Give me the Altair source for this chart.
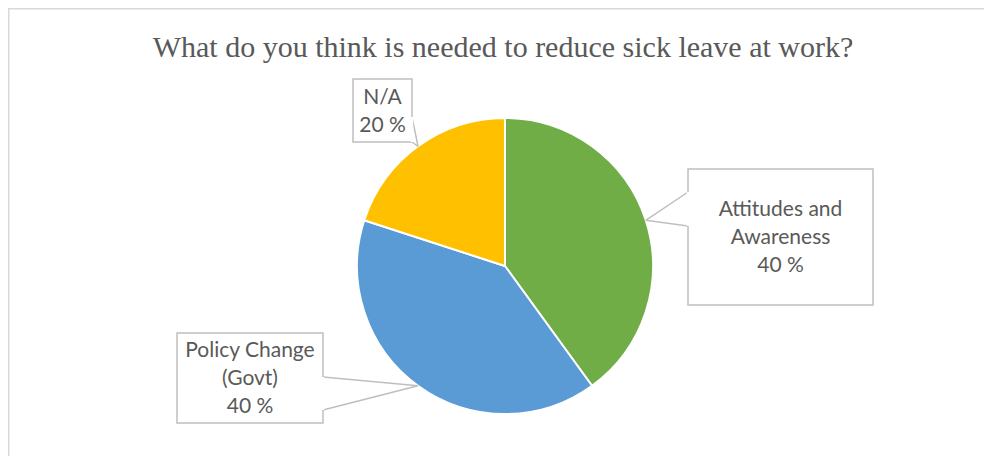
import math
import altair as alt
import pandas as pd

# ---- data ----
categories = ["Attitudes and Awareness", "Policy Change (Govt)", "N/A"]
label_text = ["Attitudes and\nAwareness", "Policy Change\n(Govt)", "N/A"]
values = [40, 40, 20]
colors = ["#70AD47", "#5B9BD5", "#FFC000"]
title_text = "What do you think is needed to reduce sick leave at work?"

# ---- layout (pixels inside the chart) ----
W, H = 976, 448
CX, CY, R = 497, 258, 148
LH = 28
# callout boxes: x0, x1, y0, y1, side of wedge, wedge base start/end along edge
boxes = [
    (680, 865, 161, 297, "left", 184, 218),
    (169, 315, 325, 415, "right", 369, 402),
    (345, 404, 71, 134, "right", 109, 134),
]
FONT = "Lato"
TXT = "#595959"
BORDER = "#BFBFBF"

total = sum(values)
pie_df = pd.DataFrame({"category": categories, "value": values, "order": list(range(len(values)))})

# tips of the callouts at slice mid-angles on the rim
rows_box, rows_line, rows_cover, rows_text = [], [], [], []
cum = 0
for cat, lab, v, b in zip(categories, label_text, values, boxes):
    mid = (cum + v / 2) / total * 2 * math.pi
    cum += v
    tx = CX + R * math.sin(mid)
    ty = CY - R * math.cos(mid)
    x0, x1, y0, y1, side, e0, e1 = b
    ex = x0 if side == "left" else x1
    rows_box.append({"x": x0, "x2": x1, "y": y0, "y2": y1})
    rows_cover.append({"x": ex, "x2": ex, "y": e0, "y2": e1})
    rows_line.append({"x": ex, "y": e0, "x2": tx, "y2": ty})
    rows_line.append({"x": ex, "y": e1, "x2": tx, "y2": ty})
    t = f"{lab}\n{v} %"
    n = t.count("\n") + 1
    rows_text.append({"x": (x0 + x1) / 2, "y": (y0 + y1) / 2 - (n - 1) * LH / 2 + 1, "t": t})

box_df = pd.DataFrame(rows_box)
line_df = pd.DataFrame(rows_line)
cover_df = pd.DataFrame(rows_cover)
text_df = pd.DataFrame(rows_text)

px = lambda f: alt.X(f + ":Q", scale=None, axis=None)
py = lambda f: alt.Y(f + ":Q", scale=None, axis=None)

pie = alt.Chart(pie_df).mark_arc(radius=R, stroke="white", strokeWidth=2).encode(
    theta=alt.Theta("value:Q", stack=True),
    color=alt.Color("category:N", scale=alt.Scale(domain=categories, range=colors), legend=None),
    order=alt.Order("order:Q", sort="ascending"),
    x=alt.value(CX),
    y=alt.value(CY),
)

wedges = alt.Chart(line_df).mark_rule(color=BORDER, strokeWidth=1.5).encode(
    x=px("x"), y=py("y"), x2="x2:Q", y2="y2:Q"
)
rects = alt.Chart(box_df).mark_rect(fill="white", stroke=BORDER, strokeWidth=1.5).encode(
    x=px("x"), x2="x2:Q", y=py("y"), y2="y2:Q"
)
covers = alt.Chart(cover_df).mark_rule(color="white", strokeWidth=2.5).encode(
    x=px("x"), x2="x2:Q", y=py("y"), y2="y2:Q"
)
labels = alt.Chart(text_df).mark_text(
    font=FONT, fontSize=21, color=TXT, lineBreak="\n", lineHeight=LH, align="center", baseline="middle"
).encode(x=px("x"), y=py("y"), text="t:N")

title = alt.Chart(pd.DataFrame({"t": [title_text]})).mark_text(
    font="Liberation Serif", fontSize=30, color="#595959", align="center", baseline="alphabetic"
).encode(x=alt.value(495), y=alt.value(49), text="t:N")

frame_top = alt.Chart(pd.DataFrame({"a": [0]})).mark_rule(color="#D9D9D9", strokeWidth=1.5).encode(
    x=alt.value(0), x2=alt.value(W), y=alt.value(0.75)
)
frame_left = alt.Chart(pd.DataFrame({"a": [0]})).mark_rule(color="#D9D9D9", strokeWidth=1.5).encode(
    x=alt.value(0.75), y=alt.value(0), y2=alt.value(H)
)

chart = alt.layer(frame_top, frame_left, title, pie, wedges, rects, covers, labels).properties(
    width=W, height=H, padding=0, autosize="none", background="white"
).configure_view(stroke=None)

chart.save("out.html", embed_options={"renderer": "svg", "actions": False})
